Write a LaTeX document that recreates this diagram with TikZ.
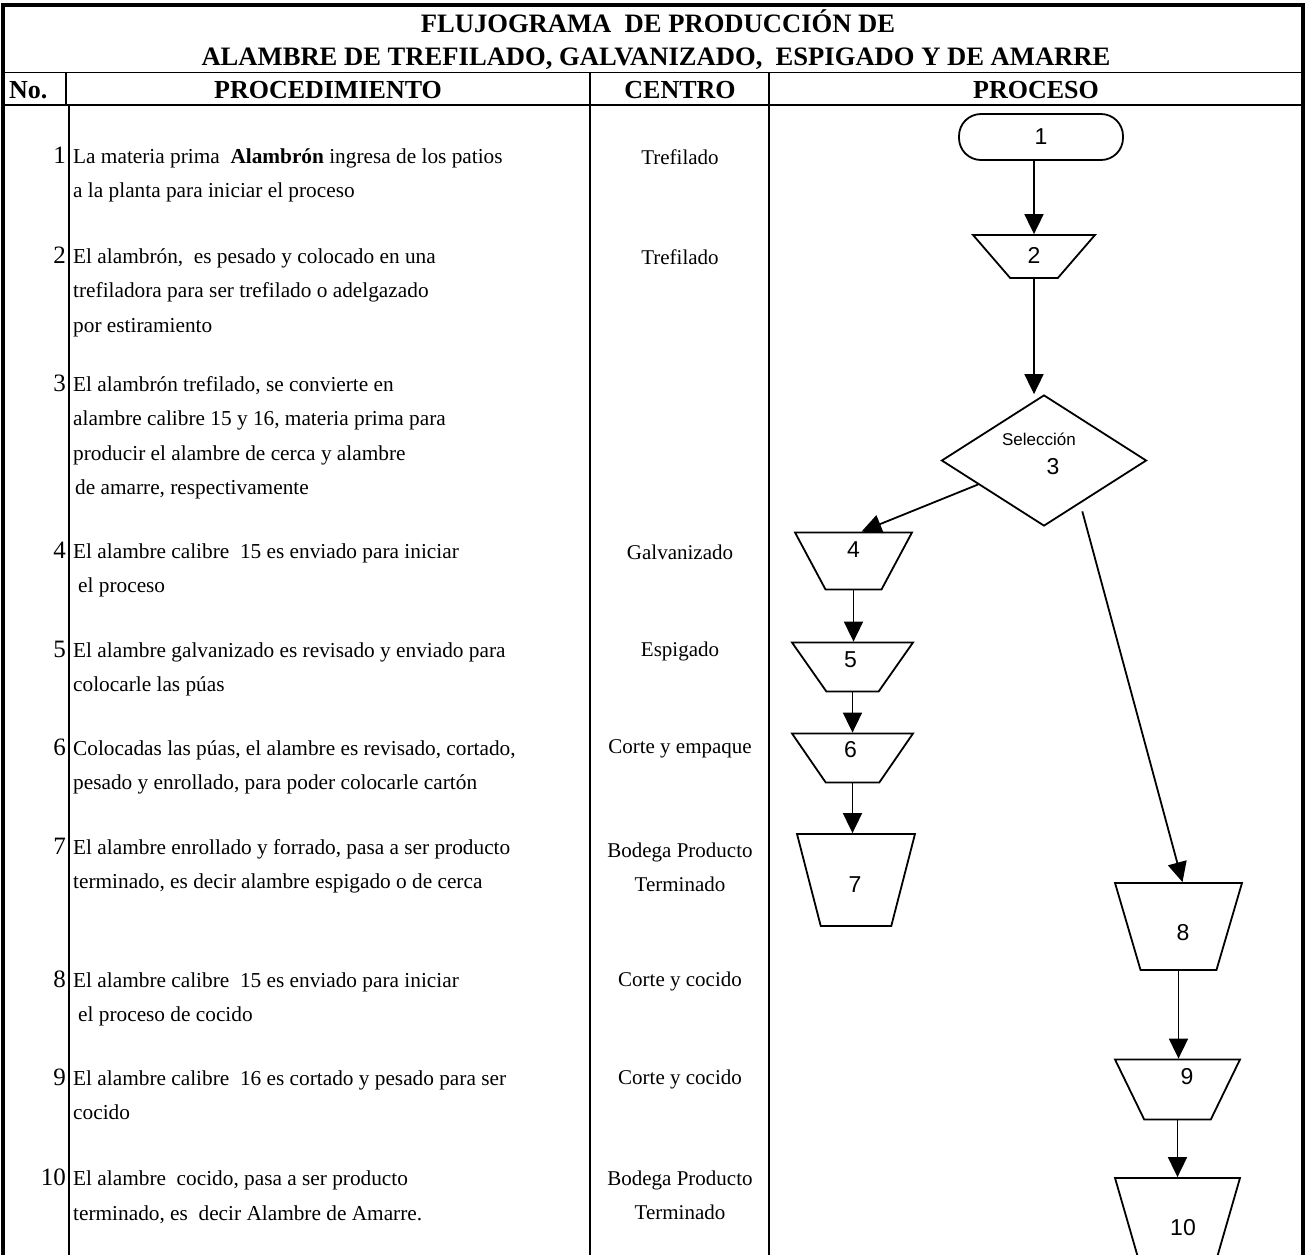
\documentclass[tikz,border=0pt]{standalone}
\usepackage{fontspec}
\setmainfont{Liberation Serif}
\newfontfamily\arialfont{Liberation Sans}
\usetikzlibrary{shapes.geometric, arrows.meta, calc}

\begin{document}
\begin{tikzpicture}[
    x=1pt, y=-1pt,
    heading/.style={font=\fontsize{26}{30}\selectfont\bfseries, inner sep=0pt, anchor=base},
    titletext/.style={font=\fontsize{26.6}{30}\selectfont\bfseries, inner sep=0pt, anchor=base},
    proctext/.style={anchor=west, align=left, inner sep=0pt, font=\fontsize{21.3}{34.5}\selectfont},
    centrotext/.style={align=center, inner sep=0pt, font=\fontsize{21}{34}\selectfont},
    rownum/.style={anchor=base east, inner sep=0pt, font=\fontsize{25}{28}\selectfont},
    rule/.style={line width=1.6pt},
    stepbox/.style={trapezium, draw, line width=1.8pt, shape border rotate=180, trapezium stretches=true, inner sep=0pt},
    steplabel/.style={inner sep=0pt, font=\arialfont\fontsize{23}{26}\selectfont},
    arrow/.style={-{Triangle[length=20pt, width=19pt]}, line width=1.8pt},
]
    \useasboundingbox (0,0) rectangle (1307,1254);
    \clip (0,0) rectangle (1307,1254);

    % Table frame and rules
    \draw[line width=3.5pt] (3,1260) -- (3,5) -- (1303,5) -- (1303,1260);
    \draw[rule] (3,72.5) -- (1303,72.5);
    \draw[rule] (3,105) -- (1303,105);
    \draw[rule] (66,72.5) -- (66,105);
    \draw[rule] (69,105) -- (69,1260);
    \draw[rule] (590,72.5) -- (590,1260);
    \draw[rule] (769,72.5) -- (769,1260);

    % Title and column headings
    \node[titletext] (title1) at (658,32) {FLUJOGRAMA\ \ DE PRODUCCIÓN DE};
    \node[titletext] (title2) at (656,65) {ALAMBRE DE TREFILADO, GALVANIZADO,\ \ ESPIGADO Y DE AMARRE};
    \node[heading, anchor=base west] (hno) at (9,98) {No.};
    \node[heading] (hproc) at (328,98) {PROCEDIMIENTO};
    \node[heading] (hcentro) at (680,98) {CENTRO};
    \node[heading] (hproceso) at (1036,98) {PROCESO};

    % Row 1
    \node[rownum] (n1) at (66,163) {1};
    \node[proctext] (t1) at (73,175.4) {La materia prima\ \ \textbf{Alambrón} ingresa de los patios\\a la planta para iniciar el proceso};
    \node[centrotext] (c1) at (680,157) {Trefilado};

    % Row 2
    \node[rownum] (n2) at (66,263) {2};
    \node[proctext] (t2) at (73,292.6) {El alambrón,\ \ es pesado y colocado en una\\trefiladora para ser trefilado o adelgazado\\por estiramiento};
    \node[centrotext] (c2) at (680,257) {Trefilado};

    % Row 3
    \node[rownum] (n3) at (66,391) {3};
    \node[proctext] (t3) at (73,437.9) {El alambrón trefilado, se convierte en\\alambre calibre 15 y 16, materia prima para\\producir el alambre de cerca y alambre\\\hspace{2pt}de amarre, respectivamente};

    % Row 4
    \node[rownum] (n4) at (66,558) {4};
    \node[proctext] (t4) at (73,570.4) {El alambre calibre\ \ 15 es enviado para iniciar\\\hspace{5pt}el proceso};
    \node[centrotext] (c4) at (680,552) {Galvanizado};

    % Row 5
    \node[rownum] (n5) at (66,657) {5};
    \node[proctext] (t5) at (73,669.4) {El alambre galvanizado es revisado y enviado para\\colocarle las púas};
    \node[centrotext] (c5) at (680,651) {Espigado};

    % Row 6
    \node[rownum] (n6) at (66,755) {6};
    \node[proctext] (t6) at (73,767.4) {Colocadas las púas, el alambre es revisado, cortado,\\pesado y enrollado, para poder colocarle cartón};
    \node[centrotext] (c6) at (680,749) {Corte y empaque};

    % Row 7
    \node[rownum] (n7) at (66,854) {7};
    \node[proctext] (t7) at (73,866.4) {El alambre enrollado y forrado, pasa a ser producto\\terminado, es decir alambre espigado o de cerca};
    \node[centrotext] (c7) at (680,867) {Bodega Producto\\Terminado};

    % Row 8
    \node[rownum] (n8) at (66,987) {8};
    \node[proctext] (t8) at (73,999.4) {El alambre calibre\ \ 15 es enviado para iniciar\\\hspace{5pt}el proceso de cocido};
    \node[centrotext] (c8) at (680,981) {Corte y cocido};

    % Row 9
    \node[rownum] (n9) at (66,1085) {9};
    \node[proctext] (t9) at (73,1095.1) {El alambre calibre\ \ 16 es cortado y pesado para ser\\cocido};
    \node[centrotext] (c9) at (680,1079) {Corte y cocido};

    % Row 10
    \node[rownum] (n10) at (66,1185) {10};
    \node[proctext] (t10) at (73,1197.4) {El alambre\ \ cocido, pasa a ser producto\\terminado, es\ \ decir Alambre de Amarre.};
    \node[centrotext] (c10) at (680,1195.5) {Bodega Producto\\Terminado};

    % Process column: shapes
    \node[draw, line width=1.8pt, rounded corners=22pt, minimum width=164pt, minimum height=46pt, inner sep=0pt, font=\arialfont\fontsize{23}{26}\selectfont] (s1) at (1041,137) {1};
    \node[stepbox, minimum width=122pt, minimum height=43pt, trapezium angle=60] (p2) at (1034,256.5) {\phantom{0}};
    \node[diamond, draw, line width=1.8pt, minimum width=205pt, minimum height=131pt, inner sep=0pt] (d3) at (1044,460.5) {};
    \node[stepbox, minimum width=117pt, minimum height=57pt, trapezium angle=68] (p4) at (853.5,561) {\phantom{0}};
    \node[stepbox, minimum width=121pt, minimum height=49pt, trapezium angle=64] (p5) at (852.5,667) {\phantom{0}};
    \node[stepbox, minimum width=121pt, minimum height=49pt, trapezium angle=65] (p6) at (852.5,758) {\phantom{0}};
    \node[stepbox, minimum width=118pt, minimum height=92pt, trapezium angle=76] (p7) at (856,880) {\phantom{0}};
    \node[stepbox, minimum width=127pt, minimum height=87pt, trapezium angle=76] (p8) at (1178.5,926.5) {\phantom{0}};
    \node[stepbox, minimum width=125pt, minimum height=60pt, trapezium angle=72] (p9) at (1177.5,1089.5) {\phantom{0}};
    \node[stepbox, minimum width=125pt, minimum height=87pt, trapezium angle=76] (p10) at (1177.5,1221.5) {\phantom{0}};

    % Process column: numbers
    \node[steplabel] (l2) at ($(p2.center)+(0,-1)$) {2};
    \node[inner sep=0pt, font=\arialfont\fontsize{17}{20}\selectfont] (sel) at ($(d3.center)+(-5,-21)$) {Selección};
    \node[steplabel] (l3) at ($(d3.center)+(9,6)$) {3};
    \node[steplabel] (l4) at ($(p4.90)+(0,18)$) {4};
    \node[steplabel] (l5) at ($(p5.90)+(-2,18)$) {5};
    \node[steplabel] (l6) at ($(p6.90)+(-2,17)$) {6};
    \node[steplabel] (l7) at ($(p7.90)+(-1,51)$) {7};
    \node[steplabel] (l8) at ($(p8.90)+(4.5,50)$) {8};
    \node[steplabel] (l9) at ($(p9.90)+(9.5,18)$) {9};
    \node[steplabel] (l10) at ($(p10.90)+(5.5,50)$) {10};

    % Arrows
    \draw[arrow] (s1.south -| p2.90) -- (p2.90);
    \draw[arrow] (p2.270) -- (p2.270 |- d3.north);
    \draw[arrow] (d3.200) -- ($(p4.90)+(8,0)$);
    \draw[arrow, shorten <=8pt] (d3.-50) -- ($(p8.90)+(4,0)$);
    \draw[arrow] (p4.270) -- (p4.270 |- p5.90);
    \draw[arrow] (p5.270) -- (p5.270 |- p6.90);
    \draw[arrow] (p6.270) -- (p6.270 |- p7.90);
    \draw[arrow] (p8.270) -- (p8.270 |- p9.90);
    \draw[arrow] (p9.270) -- (p9.270 |- p10.90);
\end{tikzpicture}
\end{document}
